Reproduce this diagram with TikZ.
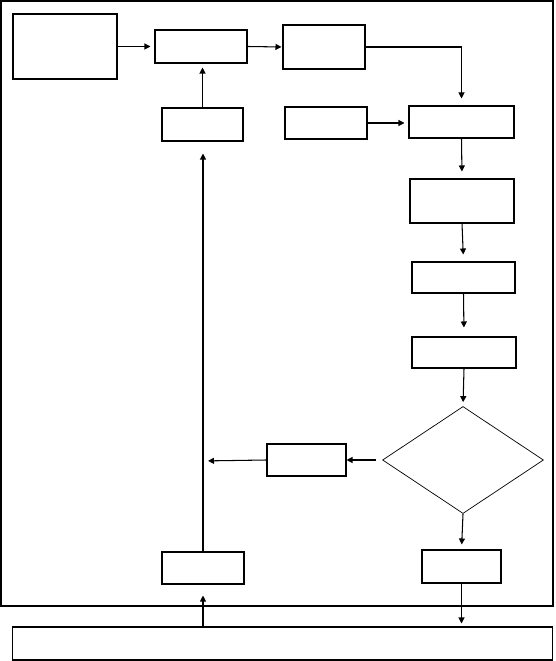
\documentclass[tikz,border=0pt]{standalone}
\usepackage{tikz}
\usetikzlibrary{shapes.geometric, arrows.meta, positioning}
\tikzset{
  fc/box/.style={rectangle, draw=black, fill=white, line width=0.6pt,
    inner sep=0pt},
  fc/dec/.style={diamond, draw=black, fill=white, line width=0.4pt,
    inner sep=0pt, minimum width=3.22cm, minimum height=2.14cm},
  fc/arr/.style={-{Triangle[length=1.2mm,width=1.2mm]}, line width=0.6pt,
    draw=black}
}
\begin{document}
\begin{tikzpicture}[x=0.02cm, y=-0.02cm]
    \useasboundingbox (0,0) rectangle (555,661);
    % outer frame
    \draw[line width=0.6pt] (1,1) rectangle (553,606);
    % boxes
    \node[fc/box, minimum width=2.08cm, minimum height=1.30cm] (start) at (65,46.5) {};
    \node[fc/box, minimum width=1.84cm, minimum height=0.66cm] (merge) at (201,46.5) {};
    \node[fc/box, minimum width=1.64cm, minimum height=0.88cm] (proc) at (324,47) {};
    \node[fc/box, minimum width=1.64cm, minimum height=0.64cm] (input) at (326,123) {};
    \node[fc/box, minimum width=2.10cm, minimum height=0.64cm] (stepA) at (461.5,122) {};
    \node[fc/box, minimum width=1.62cm, minimum height=0.66cm] (back) at (202.5,124.5) {};
    \node[fc/box, minimum width=2.08cm, minimum height=0.88cm] (stepB) at (462,201) {};
    \node[fc/box, minimum width=2.06cm, minimum height=0.62cm] (stepC) at (463.5,277.5) {};
    \node[fc/box, minimum width=2.08cm, minimum height=0.62cm] (stepD) at (464,352.5) {};
    \node[fc/dec] (check) at (463,460) {};
    \node[fc/box, minimum width=1.58cm, minimum height=0.64cm] (fix) at (306.5,460) {};
    \node[fc/box, minimum width=1.64cm, minimum height=0.64cm] (loop) at (203,568) {};
    \node[fc/box, minimum width=1.58cm, minimum height=0.66cm] (done) at (461.5,566.5) {};
    \node[fc/box, minimum width=10.82cm, minimum height=0.66cm] (base) at (282.5,643.5) {};
    \coordinate (spine) at (200,461);
    % connectors
    \draw[fc/arr, shorten >=0.8mm] (start.east) -- (merge.west);
    \draw[fc/arr, shorten >=0.2mm] (merge.east) -- (proc.west);
    \draw[fc/arr, shorten >=1.4mm] (proc.east) -| (stepA.north);
    \draw[fc/arr, shorten >=0.8mm] (input.east) -- (input.east -| stepA.west);
    \draw[fc/arr, shorten >=0.8mm] (back.north) -- (back.north |- merge.south);
    \draw[fc/arr, shorten >=1.4mm] (stepA.south) -- (stepB.north);
    \draw[fc/arr, shorten >=1.4mm] (stepB.south) -- (stepC.north);
    \draw[fc/arr, shorten >=1.8mm] (stepC.south) -- (stepD.north);
    \draw[fc/arr, shorten >=0.8mm] (stepD.south) -- (check.north);
    \draw[fc/arr, shorten <=1.2mm] (check.west) -- (fix.east);
    \draw[fc/arr, shorten >=1.6mm] (fix.west) -- (spine);
    \draw[fc/arr, shorten >=2.4mm] (loop.north) -- (loop.north |- back.south);
    \draw[fc/arr, shorten >=1.0mm] (check.south) -- (done.north);
    \draw[fc/arr, shorten >=0.6mm] (done.south) -- (done.south |- base.north);
    \draw[fc/arr, shorten >=2.2mm] (base.north -| loop.south) -- (loop.south);
\end{tikzpicture}
\end{document}
